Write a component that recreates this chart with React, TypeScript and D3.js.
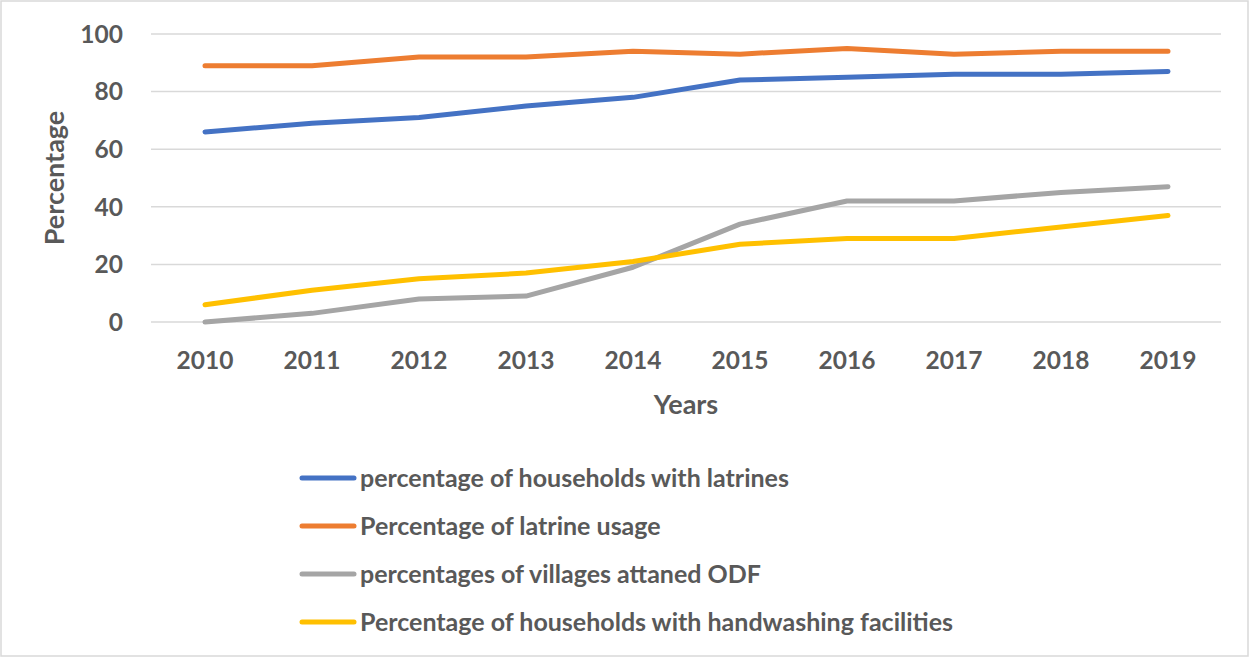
import React from "react";
import * as d3 from "d3";

const years = ["2010", "2011", "2012", "2013", "2014", "2015", "2016", "2017", "2018", "2019"];
const householdsWithLatrines = [66, 69, 71, 75, 78, 84, 85, 86, 86, 87];
const latrineUsage = [89, 89, 92, 92, 94, 93, 95, 93, 94, 94];
const villagesODF = [0, 3, 8, 9, 19, 34, 42, 42, 45, 47];
const handwashing = [6, 11, 15, 17, 21, 27, 29, 29, 33, 37];
const yTicks = [0, 20, 40, 60, 80, 100];

const seriesNames = [
  "percentage of households with latrines",
  "Percentage of latrine usage",
  "percentages of villages attaned ODF",
  "Percentage of households with handwashing facilities",
];
const seriesValues = [householdsWithLatrines, latrineUsage, villagesODF, handwashing];
const seriesColors = ["#4472C4", "#ED7D31", "#A5A5A5", "#FFC000"];

const W = 1250;
const H = 658;
const FONT = "Lato, 'Open Sans', sans-serif";
const TEXT = "#595959";

export default function App() {
  const x = d3.scaleBand<string>().domain(years).range([151.5, 1221.5]);
  const y = d3.scaleLinear().domain([0, 100]).range([322, 34]);
  const cx = (d: string) => (x(d) as number) + x.bandwidth() / 2;
  const line = d3
    .line<number>()
    .x((_, i) => cx(years[i]))
    .y((v) => y(v));

  return (
    <svg
      width={W}
      height={H}
      style={{ position: "absolute", left: 0, top: 0, background: "#fff" }}
      fontFamily={FONT}
    >
      <rect x={1} y={1} width={W - 3} height={H - 3} fill="#fff" stroke="#d9d9d9" strokeWidth={1.5} />
      {yTicks.map((t) => (
        <g key={t}>
          <line x1={151} x2={1221} y1={y(t)} y2={y(t)} stroke="#d9d9d9" strokeWidth={1.5} />
          <text x={123} y={y(t)} dy="0.36em" textAnchor="end" fontSize={24.5} fontWeight="bold" fill={TEXT}>
            {t}
          </text>
        </g>
      ))}
      {years.map((yr) => (
        <text key={yr} x={cx(yr)} y={369} textAnchor="middle" fontSize={24.5} fontWeight="bold" fill={TEXT}>
          {yr}
        </text>
      ))}
      <text x={686} y={414} textAnchor="middle" fontSize={27} fontWeight="bold" fill={TEXT}>
        Years
      </text>
      <text
        transform={`translate(64, ${(y(0) + y(100)) / 2}) rotate(-90)`}
        textAnchor="middle"
        fontSize={27}
        fontWeight="bold"
        fill={TEXT}
      >
        Percentage
      </text>
      {seriesValues.map((vals, i) => (
        <path
          key={i}
          d={line(vals) as string}
          fill="none"
          stroke={seriesColors[i]}
          strokeWidth={5}
          strokeLinecap="round"
          strokeLinejoin="round"
        />
      ))}
      {seriesNames.map((name, i) => {
        const ly = 478 + i * 48;
        return (
          <g key={name}>
            <line x1={302} x2={354} y1={ly} y2={ly} stroke={seriesColors[i]} strokeWidth={5} strokeLinecap="round" />
            <text x={360} y={ly} dy="0.36em" fontSize={25} fontWeight="bold" fill={TEXT}>
              {name}
            </text>
          </g>
        );
      })}
    </svg>
  );
}
